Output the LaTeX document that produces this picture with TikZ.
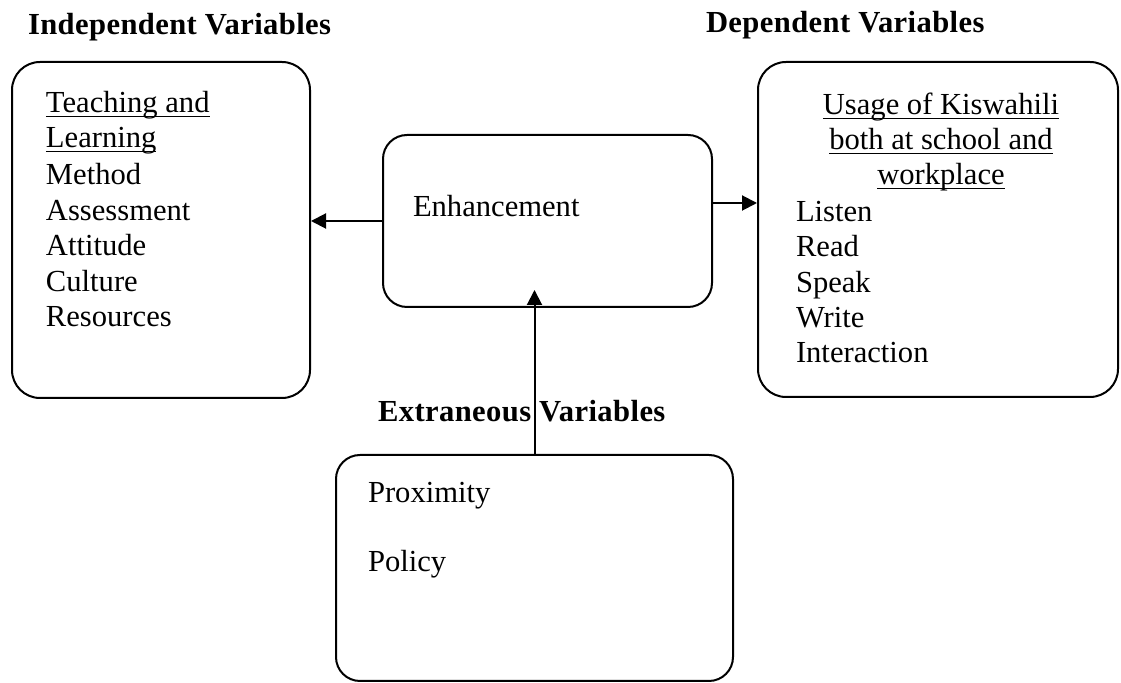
\documentclass[tikz,border=0pt]{standalone}
\usepackage{fontspec}
\setmainfont{Liberation Serif}
\newfontfamily\headfont[LetterSpace=1.3]{Liberation Serif}
\usetikzlibrary{arrows.meta}
\newcommand{\undl}[1]{\setbox0\hbox{#1}\rlap{\rule[-2pt]{\wd0}{0.6pt}}\box0}

\begin{document}
\begin{tikzpicture}[x=0.5pt, y=-0.5pt, line width=1pt,
    box/.style = {draw, rounded corners=14pt, inner sep=0pt},
    txt/.style = {anchor=base west, inner sep=0pt, font=\fontsize{15.3}{17.75}\selectfont},
    head/.style = {txt, font=\headfont\fontsize{15.3}{17.75}\selectfont\bfseries},
    arr/.style = {-{Triangle[length=7.5pt, width=7.5pt]}}]
    \useasboundingbox (0,0) rectangle (1121,683);
    % headings
    \node[head] (indep) at (27,35) {Independent Variables};
    \node[head] (dep) at (705,33) {Dependent Variables};
    \node[head] (extra) at (377,422) {Extraneous Variables};
    % boxes
    \node[box, minimum width=149pt, minimum height=168pt] (lbox) at (161,230) {};
    \node[box, rounded corners=12pt, minimum width=164.5pt, minimum height=86pt] (enh) at (547.5,221) {};
    \node[box, minimum width=180pt, minimum height=167.5pt] (rbox) at (938,229.5) {};
    \node[box, rounded corners=12pt, minimum width=198.5pt, minimum height=113pt] (bbox) at (534.5,568) {};
    % texts in the boxes
    \node[txt] (teach) at (45,113) {\undl{Teaching and}};
    \node[txt] (learn) at (45,148) {\undl{Learning}};
    \foreach \w [count=\i] in {Method, Assessment, Attitude, Culture, Resources}
        \node[txt] (l\i) at (45,{149.5+35.5*\i}) {\w};
    \node[txt] (enhtext) at (412,217) {Enhancement};
    \node[txt, anchor=base] (usage) at (941,115) {\undl{Usage of Kiswahili}};
    \node[txt, anchor=base] (both) at (941,150) {\undl{both at school and}};
    \node[txt, anchor=base] (work) at (941,185) {\undl{workplace}};
    \foreach \w [count=\i] in {Listen, Read, Speak, Write, Interaction}
        \node[txt] (r\i) at (795,{186.5+35.2*\i}) {\w};
    \node[txt] (prox) at (367,503) {Proximity};
    \node[txt] (policy) at (367,572) {Policy};
    % arrows
    \draw[arr] (enh.west) -- (enh.west -| lbox.east);
    \draw[arr] ([yshift=9pt]enh.east) -- ([yshift=9pt]enh.east -| rbox.west);
    \draw[arr] (bbox.north) -- ([yshift=9pt]enh.south -| bbox.north);
\end{tikzpicture}
\end{document}
